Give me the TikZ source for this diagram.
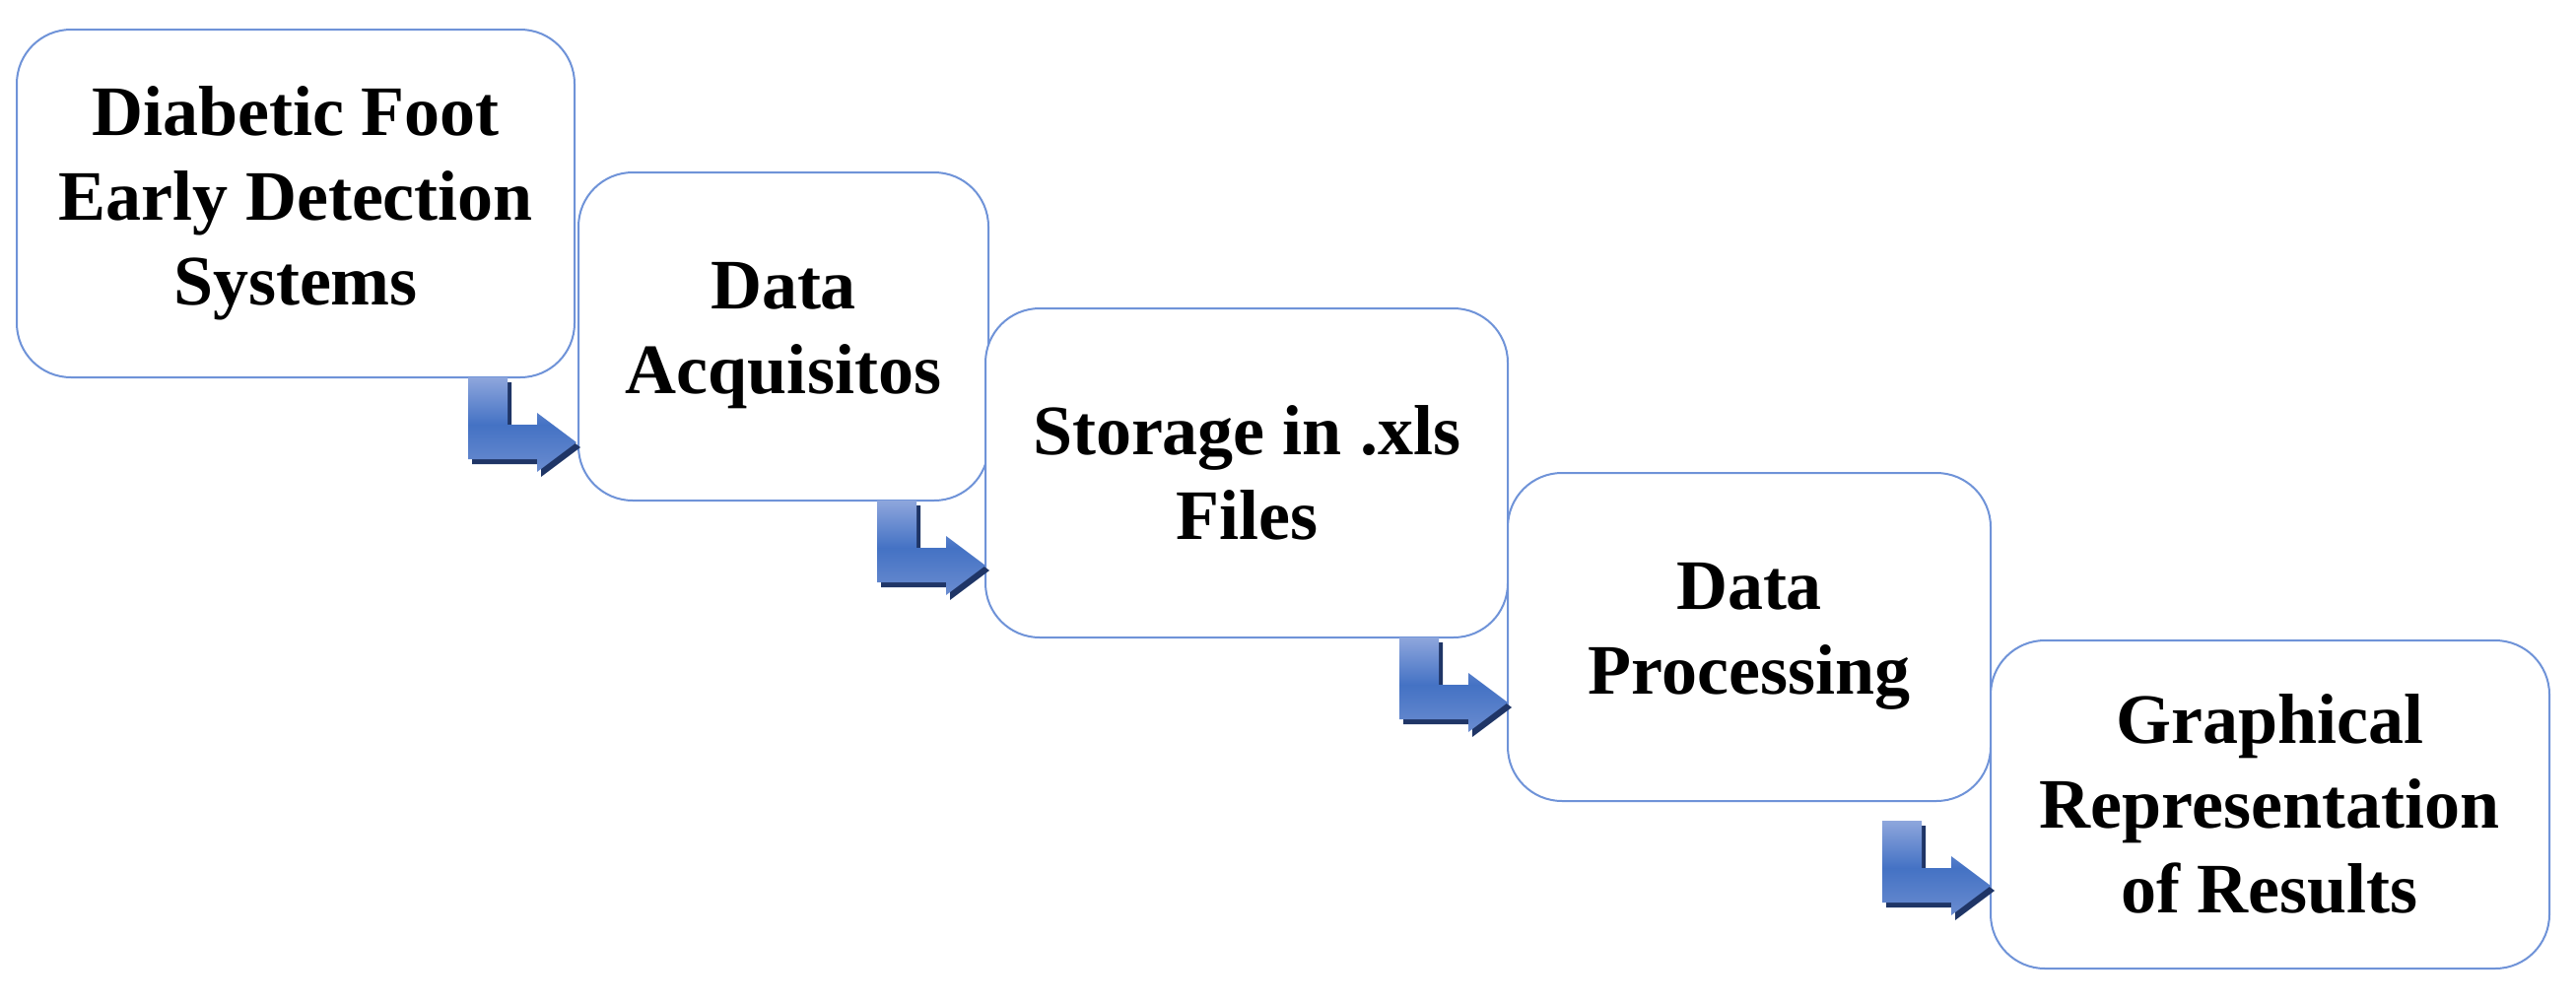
\documentclass[tikz,border=0pt]{standalone}
\usepackage{fontspec}
\setmainfont{Liberation Serif}
\definecolor{arrmid}{HTML}{4472C4}
\definecolor{arrtop}{HTML}{8EA6DC}
\definecolor{arrbot}{HTML}{6A8CD0}
\definecolor{arrsh}{HTML}{1F3566}
\definecolor{boxline}{HTML}{6F93D8}
\newcommand{\larr}[2]{%
 \fill[arrsh,shift={(#1+4,#2+5)}] (0,0) -- (40,0) -- (40,48) -- (70,48) -- (70,36) -- (110,66) -- (70,96) -- (70,83) -- (0,83) -- cycle;
 \shade[top color=arrtop,bottom color=arrbot,middle color=arrmid,shift={(#1,#2)}]
 (0,0) -- (40,0) -- (40,48) -- (70,48) -- (70,36) -- (110,66) -- (70,96) -- (70,83) -- (0,83) -- cycle;}
\begin{document}
\begin{tikzpicture}[x=1pt,y=-1pt,
 box/.style={draw=boxline,line width=2pt,rounded corners=55pt,fill=white},
 lbl/.style={font=\fontsize{72}{86}\selectfont\bfseries,align=center}]
\useasboundingbox (0,0) rectangle (2614,1017);
\draw[box] (17,30) rectangle (583,383); \node[lbl] (b1) at (300,206) {Diabetic Foot\\Early Detection\\Systems};
\draw[box] (587,175) rectangle (1003,508); \node[lbl] (b2) at (795,341) {Data\\Acquisitos};
\draw[box] (1000,313) rectangle (1530,647); \node[lbl] (b3) at (1265,480) {Storage in .xls\\Files};
\draw[box] (1530,480) rectangle (2020,813); \node[lbl] (b4) at (1775,646) {Data\\Processing};
\draw[box] (2020,650) rectangle (2587,983); \node[lbl] (b5) at (2303,816) {Graphical\\Representation\\of Results};
\larr{475}{383}
\larr{890}{508}
\larr{1420}{647}
\larr{1910}{833}
\end{tikzpicture}
\end{document}
